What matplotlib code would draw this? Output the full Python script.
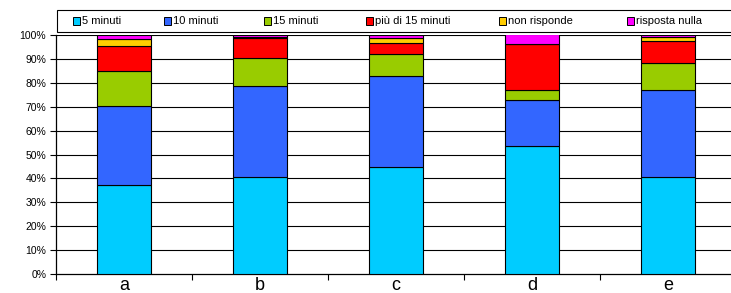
import numpy as np
import matplotlib
matplotlib.use("Agg")
import matplotlib.pyplot as plt
from matplotlib.patches import Rectangle
from matplotlib.ticker import FixedLocator, PercentFormatter

plt.rcParams["font.family"] = ["Liberation Sans", "DejaVu Sans"]

# Data (percent of answers per group)
categories = ["a", "b", "c", "d", "e"]
series_names = ["5 minuti", "10 minuti", "15 minuti", "più di 15 minuti",
                "non risponde", "risposta nulla"]
min5 = [37.2, 40.6, 44.8, 53.6, 40.6]
min10 = [33.0, 38.1, 37.8, 19.2, 36.2]
min15 = [14.8, 11.5, 9.2, 4.1, 11.3]
over15 = [10.2, 8.5, 4.6, 19.2, 9.1]
no_answer = [2.9, 0.5, 2.1, 0.0, 1.7]
null_answer = [1.9, 0.8, 1.5, 4.0, 1.1]
colors = ["#00CCFF", "#3366FF", "#99CC00", "#FF0000", "#FFCC00", "#FF00FF"]

values = [min5, min10, min15, over15, no_answer, null_answer]

W, H = 731, 293
fig = plt.figure(figsize=(W / 100, H / 100), dpi=100)
ax = fig.add_axes([56 / W, 1 - 274.3 / H, 680 / W, 239.6 / H])

x = np.arange(len(categories))
bottom = np.zeros(len(categories))
for name, vals, col in zip(series_names, values, colors):
    vals = np.array(vals)
    ax.bar(x, vals, 0.40, bottom=bottom, color=col, edgecolor="black",
           linewidth=0.8, label=name, zorder=3)
    bottom += vals

# gridlines
for yv in range(10, 101, 10):
    ax.axhline(yv, color="black", linewidth=0.8, zorder=1)

ax.set_xlim(-0.5, len(categories) - 0.5)
ax.set_ylim(0, 100)
ax.yaxis.set_major_locator(FixedLocator(range(0, 101, 10)))
ax.yaxis.set_major_formatter(PercentFormatter(decimals=0))
ax.tick_params(axis="y", labelsize=7.5, length=4, width=0.8, pad=3, color="black")

ax.set_xticks(x)
ax.set_xticklabels(categories, fontsize=13)
ax.tick_params(axis="x", length=0, pad=2)
ax.set_xticks(np.arange(-0.5, len(categories), 1), minor=True)
ax.tick_params(axis="x", which="minor", length=4, width=0.8, color="black")

for side in ["top", "right"]:
    ax.spines[side].set_visible(False)
for side in ["left", "bottom"]:
    ax.spines[side].set_linewidth(0.9)

# legend box drawn by hand to match the wide spacing of the original
fig.patches.append(Rectangle((57 / W, 1 - 31.5 / H), 680 / W, 21.5 / H,
                             transform=fig.transFigure, facecolor="white",
                             edgecolor="black", linewidth=0.8))
legend_x = [73, 164, 264, 366, 499, 627]
for lx, name, col in zip(legend_x, series_names, colors):
    fig.patches.append(Rectangle((lx / W, 1 - 24.5 / H), 7 / W, 7 / H,
                                 transform=fig.transFigure, facecolor=col,
                                 edgecolor="black", linewidth=0.7))
    fig.text((lx + 9) / W, 1 - 20.5 / H, name, fontsize=8, va="center", ha="left")

fig.savefig("out.png", dpi=100)
